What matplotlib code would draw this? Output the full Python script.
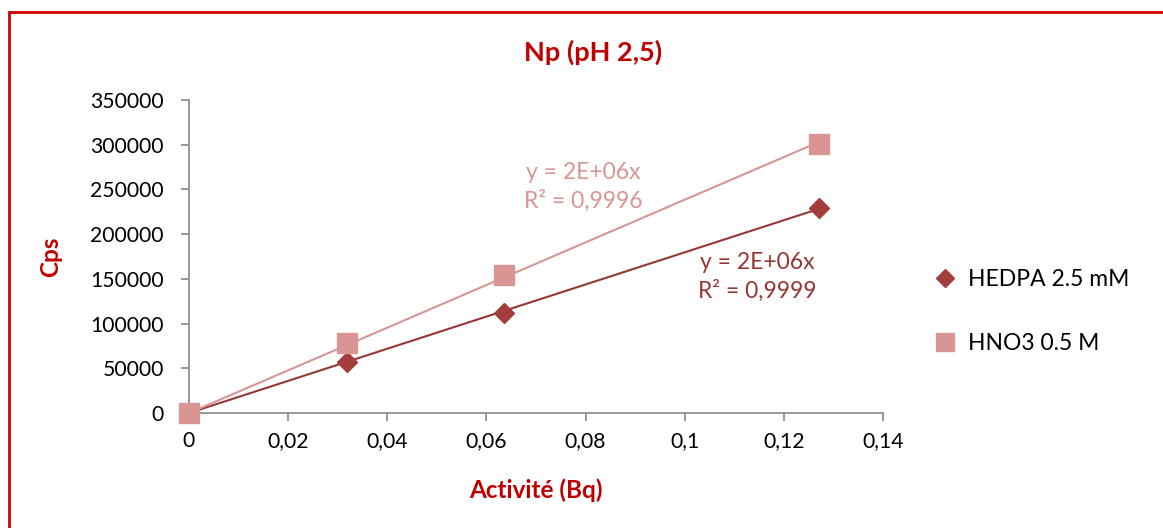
import matplotlib as mpl
import matplotlib.pyplot as plt
import numpy as np
from matplotlib.patches import Rectangle
from matplotlib.ticker import FuncFormatter

mpl.rcParams.update({
    "font.family": ["Lato", "DejaVu Sans"],
    "font.size": 15,
})

# data
activite = [0.0, 0.0318, 0.0636, 0.1271]
cps_hedpa = [0, 57000, 112000, 229500]
cps_hno3 = [0, 78500, 154500, 301000]
labels = ["HEDPA 2.5 mM", "HNO3 0.5 M"]
eq_hedpa = "y = 2E+06x\nR² = 0,9999"
eq_hno3 = "y = 2E+06x\nR² = 0,9996"

red = "#C00000"
c_hedpa = "#A33D3B"
c_hedpa_line = "#953735"
c_hno3 = "#D99594"

fig = plt.figure(figsize=(11.63, 5.28), dpi=100)
ax = fig.add_axes([0.1625, 0.2178, 0.5967, 0.5928])

x = np.asarray(activite)
for ys, lcol in [(cps_hedpa, c_hedpa_line), (cps_hno3, c_hno3)]:
    y = np.asarray(ys, dtype=float)
    slope = np.sum(x * y) / np.sum(x * x)
    xx = np.array([0, x.max()])
    ax.plot(xx, slope * xx, color=lcol, lw=1.5, zorder=2)

h1, = ax.plot(activite, cps_hedpa, ls="none", marker="D", ms=10, color=c_hedpa, zorder=3)
h2, = ax.plot(activite, cps_hno3, ls="none", marker="s", ms=14, color=c_hno3, zorder=4)

ax.text(0.0795, 253000, eq_hno3, color=c_hno3, ha="center", va="center",
        fontsize=16.5, linespacing=1.35)
ax.text(0.1147, 152000, eq_hedpa, color=c_hedpa_line, ha="center", va="center",
        fontsize=16.5, linespacing=1.35)

ax.set_xlim(0, 0.14)
ax.set_ylim(0, 350000)
ax.set_xticks(np.arange(0, 0.141, 0.02))
ax.set_yticks(np.arange(0, 350001, 50000))
ax.xaxis.set_major_formatter(FuncFormatter(
    lambda v, p: "0" if abs(v) < 1e-9 else f"{v:g}".replace(".", ",")))
ax.yaxis.set_major_formatter(FuncFormatter(lambda v, p: f"{v:.0f}"))

for s in ["top", "right"]:
    ax.spines[s].set_visible(False)
for s in ["left", "bottom"]:
    ax.spines[s].set_color("#868686")
    ax.spines[s].set_linewidth(1.2)
ax.tick_params(direction="out", length=6, width=1.2, color="#868686",
               labelsize=15.2)
ax.tick_params(axis="y", pad=12)
ax.tick_params(axis="x", pad=7)
for art in ax.lines:
    art.set_clip_on(False)

fig.text(593 / 1163, 1 - 52 / 528, "Np (pH 2,5)", color=red, fontweight="bold",
         fontsize=19.5, ha="center", va="center")
ax.set_ylabel("Cps", color=red, fontweight="bold", fontsize=17.5, labelpad=20)
ax.set_xlabel("Activité (Bq)", color=red, fontweight="bold", fontsize=17.5, labelpad=20)

fig.legend([h1, h2], labels, loc="center left", bbox_to_anchor=(0.783, 0.41),
           frameon=False, fontsize=16.5, labelspacing=1.9, handletextpad=0.4,
           handlelength=1.2, markerscale=0.9)

fig.patches.append(Rectangle((9 / 1163, -0.05), 1.2, 1 - 12 / 528 + 0.05,
                             transform=fig.transFigure, fill=False,
                             edgecolor="#D00000", lw=2))

fig.savefig("out.png", dpi=100)
